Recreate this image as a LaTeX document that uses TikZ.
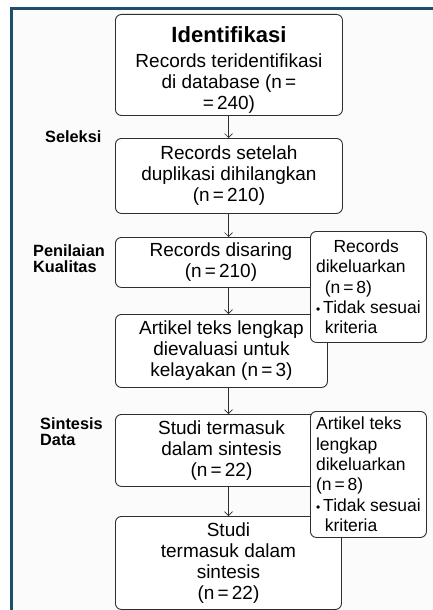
\documentclass[tikz,border=0pt]{standalone}
\usepackage{fontspec}
\setmainfont{Liberation Sans}
\usetikzlibrary{arrows.meta}
\definecolor{frameblue}{HTML}{1D4F6C}
\definecolor{boxline}{HTML}{2E2E2E}
\definecolor{paper}{HTML}{FBFBFB}
\newcommand{\bul}{{\fontsize{12}{12}\selectfont•}\,}
\begin{document}
\begin{tikzpicture}[x=1pt,y=-1pt,
  box/.style={draw=boxline, line width=0.9pt, rounded corners=6pt, fill=white,
    align=center, inner sep=0pt, anchor=north west,
    font=\fontsize{19}{21}\selectfont},
  side/.style={box, align=left, font=\fontsize{17.5}{20.3}\selectfont},
  arr/.style={-{Straight Barb[length=4pt,width=8pt]}, line width=0.7pt, draw=boxline},
  lab/.style={font=\bfseries\fontsize{16.3}{16.5}\selectfont, align=left,
    anchor=north west, inner sep=0pt}]
\useasboundingbox (0,0) rectangle (433,610);
\fill[white] (0,0) rectangle (433,610);
\fill[paper] (11.5,8.5) rectangle (440,620);
\draw[frameblue, line width=2.6pt] (11.5,620) -- (11.5,8.5) -- (445,8.5);
\coordinate (axis) at (228.5,0);

\node[box, minimum width=227pt, minimum height=101pt] (b1) at (115,14)
  {{\bfseries\fontsize{22}{24}\selectfont\rule{0pt}{26pt}Identifikasi}\\[4pt]
   Records teridentifikasi\\di database (n\,=\\=\,240)};
\node[box, minimum width=227pt, minimum height=75pt] (b2) at (115,138)
  {Records setelah\\duplikasi dihilangkan\\(n\,=\,210)};
\node[box, minimum width=211pt, minimum height=50pt] (b3) at (115,237)
  {Records disaring\\(n\,=\,210)};
\node[box, minimum width=212pt, minimum height=73pt] (b4) at (115,314)
  {Artikel teks lengkap\\dievaluasi untuk\\kelayakan (n\,=\,3)};
\node[box, minimum width=212pt, minimum height=72pt] (b5) at (115,414)
  {Studi termasuk\\dalam sintesis\\(n\,=\,22)};
\node[box, minimum width=226pt, minimum height=93pt] (b6) at (115,516)
  {Studi\\termasuk dalam\\sintesis\\(n\,=\,22)};

\node[side, minimum width=116pt, minimum height=111pt] (s1) at (310,231)
  {\hspace{1.0em}Records\\dikeluarkan\\\hspace{0.5em}(n\,=\,8)\\\bul Tidak sesuai\\\hspace{0.5em}kriteria};
\node[side, minimum width=116pt, minimum height=126pt] (s2) at (310,411)
  {Artikel teks\\lengkap\\dikeluarkan\\(n\,=\,8)\\\bul Tidak sesuai\\\hspace{0.5em}kriteria};

\node[lab] (l1) at (45,130) {Seleksi};
\node[lab] (l2) at (33,244) {Penilaian\\Kualitas};
\node[lab] (l3) at (40,417) {Sintesis\\Data};

\draw[arr] (axis |- b1.south) -- (axis |- b2.north);
\draw[arr] (axis |- b2.south) -- (axis |- b3.north);
\draw[arr] (axis |- b3.south) -- (axis |- b4.north);
\draw[arr] (axis |- b4.south) -- (axis |- b5.north);
\draw[arr] (axis |- b5.south) -- (axis |- b6.north);
\end{tikzpicture}
\end{document}
